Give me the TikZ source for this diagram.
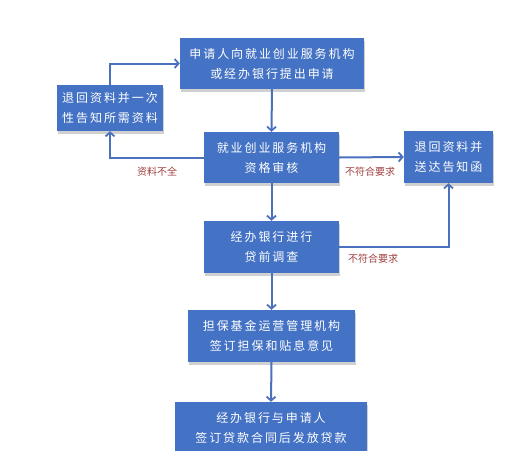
\documentclass[tikz,border=0pt]{standalone}
\usepackage{fontspec}
\newfontfamily\cjk[LetterSpace=16]{Noto Sans CJK SC}
\newfontfamily\cjklab{Noto Sans CJK SC}
\usetikzlibrary{arrows.meta,shadows,positioning}
\definecolor{boxblue}{HTML}{4472C4}
\definecolor{arrblue}{HTML}{4A70BE}
\definecolor{labred}{HTML}{A0403F}
\tikzset{
  stepbox/.style={draw=none, fill=boxblue, text=white, align=center,
    font=\cjk\fontsize{12}{20}\selectfont, inner sep=0pt,
    drop shadow={shadow xshift=1pt, shadow yshift=-2.5pt, fill=gray!60, opacity=0.6}},
  flow/.style={draw=arrblue, line width=2pt, -{Straight Barb[length=4pt,width=9pt,line width=1.8pt]}},
  lab/.style={text=labred, font=\cjklab\fontsize{10}{12}\selectfont, inner sep=0pt}
}
\begin{document}
\begin{tikzpicture}[x=1pt,y=-1pt]
\useasboundingbox[fill=white] (0,0) rectangle (525,450);
\node[stepbox, minimum width=184pt, minimum height=51pt] (b1) at (272,63.5) {申请人向就业创业服务机构\\或经办银行提出申请};
\node[stepbox, minimum width=106pt, minimum height=46pt] (bl) at (110,108) {退回资料并一次\\性告知所需资料};
\node[stepbox, minimum width=135pt, minimum height=51pt] (b2) at (271.5,157.5) {就业创业服务机构\\资格审核};
\node[stepbox, minimum width=89pt, minimum height=52pt] (br) at (448.5,157) {退回资料并\\送达告知函};
\node[stepbox, minimum width=135pt, minimum height=52pt] (b3) at (271.5,247) {经办银行进行\\贷前调查};
\node[stepbox, minimum width=167pt, minimum height=52pt] (b4) at (271.5,336) {担保基金运营管理机构\\签订担保和贴息意见};
\node[stepbox, minimum width=192pt, minimum height=52pt] (b5) at (271,428) {经办银行与申请人\\签订贷款合同后发放贷款};
\draw[flow] (b1.south) -- (b2.north);
\draw[flow] (b2.south) -- (b3.north);
\draw[flow] (b3.south) -- (b4.north);
\draw[flow] (b4.south) -- (b5.north);
\draw[flow] (bl.north) |- (b1.west);
\draw[flow] (b2.west) -| (bl.south);
\draw[flow] (b2.east) -- (br.west);
\draw[flow] (b3.east) -| (br.south);
\node[lab] (l1) at (157,172) {资料不全};
\node[lab] (l2) at (370,172) {不符合要求};
\node[lab] (l3) at (373,259) {不符合要求};
\end{tikzpicture}
\end{document}
